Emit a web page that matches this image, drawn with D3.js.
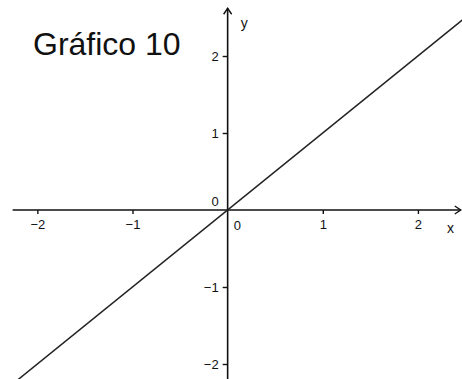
<!DOCTYPE html>
<html>
<head>
<meta charset="utf-8">
<script src="https://cdn.jsdelivr.net/npm/d3@7"></script>
<style>
  html, body { margin: 0; padding: 0; background: #fff; }
  svg { display: block; }
  text { font-family: "Liberation Sans", Arial, sans-serif; fill: #111; }
</style>
</head>
<body>
<svg id="chart" width="462" height="379"></svg>
<script>
// Graph of y = x on a Cartesian plane
const titleText = "Gráfico 10";
const xTicks = [-2, -1, 1, 2];
const yTicks = [-2, -1, 1, 2];
const lineX = [-2.6, 2.6];
const lineY = [-2.6, 2.6];

const W = 462, H = 379;
const svg = d3.select("#chart");

// scales: origin at (227, 210), ~95 px per x-unit, ~77 px per y-unit
const x = d3.scaleLinear().domain([-2.3926, 2.4632]).range([0, 462]);
const y = d3.scaleLinear().domain([2.7273, -2.1948]).range([0, 379]);

const x0 = x(0), y0 = y(0);
const fmt = d => d < 0 ? "\u2212" + Math.abs(d) : d;

svg.append("defs").append("clipPath").attr("id", "clip")
  .append("rect").attr("width", W).attr("height", H);

// x axis
const xAxisLine = svg.append("g");
xAxisLine.append("line")
  .attr("x1", x(-2.26)).attr("x2", x(2.45))
  .attr("y1", y0).attr("y2", y0)
  .attr("stroke", "#111").attr("stroke-width", 1.6);
xAxisLine.append("path")
  .attr("d", `M${x(2.45) - 6},${y0 - 4}L${x(2.45)},${y0}L${x(2.45) - 6},${y0 + 4}`)
  .attr("fill", "none").attr("stroke", "#111").attr("stroke-width", 1.4);

const xg = svg.append("g").attr("transform", `translate(0,${y0})`)
  .call(d3.axisBottom(x).tickValues(xTicks).tickSize(4).tickPadding(6).tickFormat(fmt));
xg.select(".domain").remove();
xg.selectAll(".tick line").attr("stroke", "#111").attr("stroke-width", 1.4);
xg.selectAll(".tick text").attr("font-size", 13).attr("fill", "#111")
  .style("font-family", "Liberation Sans, Arial, sans-serif");

// y axis
const yAxisLine = svg.append("g");
yAxisLine.append("line")
  .attr("x1", x0).attr("x2", x0)
  .attr("y1", y(2.62)).attr("y2", H)
  .attr("stroke", "#111").attr("stroke-width", 1.6);
yAxisLine.append("path")
  .attr("d", `M${x0 - 4},${y(2.62) + 6}L${x0},${y(2.62)}L${x0 + 4},${y(2.62) + 6}`)
  .attr("fill", "none").attr("stroke", "#111").attr("stroke-width", 1.4);

const yg = svg.append("g").attr("transform", `translate(${x0},0)`)
  .call(d3.axisLeft(y).tickValues(yTicks).tickSize(5).tickPadding(4).tickFormat(fmt));
yg.select(".domain").remove();
yg.selectAll(".tick line").attr("stroke", "#111").attr("stroke-width", 1.4);
yg.selectAll(".tick text").attr("font-size", 13).attr("fill", "#111")
  .style("font-family", "Liberation Sans, Arial, sans-serif");

// origin labels and axis names
svg.append("text").attr("x", x0 + 6).attr("y", y0 + 20)
  .attr("font-size", 13).text("0");
svg.append("text").attr("x", x0 - 9).attr("y", y0 - 4)
  .attr("text-anchor", "end").attr("font-size", 13).text("0");
svg.append("text").attr("x", 447).attr("y", y0 + 23)
  .attr("font-size", 14).text("x");
svg.append("text").attr("x", x0 + 13).attr("y", 28)
  .attr("font-size", 14).text("y");

// the line y = x
svg.append("path")
  .datum(d3.zip(lineX, lineY))
  .attr("clip-path", "url(#clip)")
  .attr("d", d3.line().x(d => x(d[0])).y(d => y(d[1])))
  .attr("fill", "none").attr("stroke", "#222").attr("stroke-width", 1.5);

// title
svg.append("text").attr("x", 33).attr("y", 55)
  .attr("font-size", 32).text(titleText);
</script>
</body>
</html>
